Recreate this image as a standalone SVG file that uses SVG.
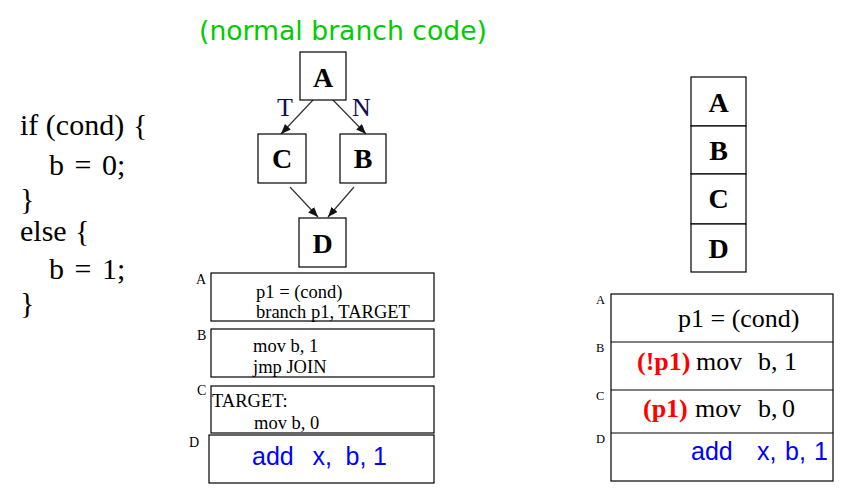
<svg xmlns="http://www.w3.org/2000/svg" width="846" height="488" viewBox="0 0 846 488">
<style>
  .box { fill: #ffffff; stroke: #000000; stroke-width: 1.2; }
  .node { font-family: "Liberation Serif", "Times New Roman", serif; font-weight: bold; font-size: 28px; fill: #000; text-anchor: middle; }
  .src { font-family: "Liberation Serif", "Times New Roman", serif; font-size: 30px; fill: #000; }
  .code { font-family: "Liberation Serif", "Times New Roman", serif; font-size: 18.5px; fill: #000; }
  .big { font-family: "Liberation Serif", "Times New Roman", serif; font-size: 26px; fill: #000; }
  .pred { font-family: "Liberation Serif", "Times New Roman", serif; font-size: 26px; font-weight: bold; fill: #ff0000; }
  .blue { font-family: "Liberation Sans", Arial, sans-serif; font-size: 25px; fill: #0000ff; }
  .lbl { font-family: "Liberation Serif", "Times New Roman", serif; font-size: 14px; fill: #000; }
  .lbls { font-family: "Liberation Serif", "Times New Roman", serif; font-size: 12.5px; fill: #000; }
  .edge { stroke: #333333; stroke-width: 1.2; fill: none; marker-end: url(#arr); }
  .tn { font-family: "Liberation Serif", "Times New Roman", serif; font-size: 26px; fill: #101050; }
</style>
<defs>
  <marker id="arr" viewBox="0 0 10 8" refX="10" refY="4" markerWidth="10" markerHeight="8" markerUnits="userSpaceOnUse" orient="auto">
    <path d="M0,0 L10,4 L0,8 z" fill="#111111"/>
  </marker>
</defs>
<rect width="846" height="488" fill="#ffffff"/>

<!-- title -->
<text id="title" x="199" y="40" font-family="'DejaVu Sans', Verdana, sans-serif" font-size="26.5" fill="#00cc00" textLength="288" lengthAdjust="spacingAndGlyphs">(normal branch code)</text>

<!-- source code -->
<g id="source">
  <text class="src" x="20" y="135">if (cond)</text>
  <text class="src" x="133" y="135">{</text>
  <text class="src" x="49" y="175" word-spacing="3">b = 0;</text>
  <text class="src" x="20" y="209">}</text>
  <text class="src" x="20" y="241">else</text>
  <text class="src" x="75" y="241">{</text>
  <text class="src" x="49" y="279" word-spacing="3">b = 1;</text>
  <text class="src" x="20" y="313">}</text>
</g>

<!-- connectors -->
<g id="connectors">
  <line class="edge" x1="313" y1="100" x2="281" y2="134"/>
  <line class="edge" x1="333" y1="100" x2="366" y2="134"/>
  <line class="edge" x1="290" y1="187" x2="318" y2="217"/>
  <line class="edge" x1="354" y1="187" x2="328" y2="217"/>
  <text class="tn" x="277" y="116">T</text>
  <text class="tn" x="352" y="116">N</text>
</g>

<!-- CFG nodes -->
<g id="nodeA">
  <rect class="box" x="300" y="52" width="46" height="48"/>
  <text class="node" x="323" y="87">A</text>
</g>
<g id="nodeC">
  <rect class="box" x="258" y="134" width="48" height="49"/>
  <text class="node" x="282" y="168">C</text>
</g>
<g id="nodeB">
  <rect class="box" x="340" y="134" width="46" height="49"/>
  <text class="node" x="363" y="168">B</text>
</g>
<g id="nodeD">
  <rect class="box" x="299" y="218" width="47" height="49"/>
  <text class="node" x="322.5" y="253">D</text>
</g>

<!-- left code blocks -->
<g id="codeA">
  <text class="lbl" x="196" y="284">A</text>
  <rect class="box" x="211" y="273" width="223" height="48"/>
  <text class="code" x="256" y="298">p1 = (cond)</text>
  <text class="code" x="256" y="318">branch p1, TARGET</text>
</g>
<g id="codeB">
  <text class="lbl" x="197" y="340">B</text>
  <rect class="box" x="211" y="329" width="223" height="48"/>
  <text class="code" x="253" y="352">mov b, 1</text>
  <text class="code" x="253" y="373">jmp JOIN</text>
</g>
<g id="codeC">
  <text class="lbl" x="197" y="395">C</text>
  <rect class="box" x="211" y="386" width="223" height="47"/>
  <text class="code" x="212" y="407">TARGET:</text>
  <text class="code" x="254" y="429">mov b, 0</text>
</g>
<g id="codeD">
  <text class="lbl" x="189" y="447">D</text>
  <rect class="box" x="209" y="435" width="225" height="48"/>
  <text class="blue" y="465"><tspan x="252">add</tspan><tspan x="312.5">x,</tspan><tspan x="345.5">b,</tspan><tspan x="373">1</tspan></text>
</g>

<!-- right stack -->
<g id="stackA">
  <rect class="box" x="691" y="77" width="55" height="49"/>
  <text class="node" x="718.5" y="112">A</text>
</g>
<g id="stackB">
  <rect class="box" x="691" y="126" width="55" height="48"/>
  <text class="node" x="718.5" y="160">B</text>
</g>
<g id="stackC">
  <rect class="box" x="691" y="174" width="55" height="50"/>
  <text class="node" x="718.5" y="208">C</text>
</g>
<g id="stackD">
  <rect class="box" x="691" y="224" width="55" height="48"/>
  <text class="node" x="718.5" y="258">D</text>
</g>

<!-- right predicated code -->
<g id="predicated">
  <rect class="box" x="611" y="294" width="222" height="187"/>
  <line x1="611" y1="342" x2="833" y2="342" stroke="#000" stroke-width="1.2"/>
  <line x1="611" y1="390" x2="833" y2="390" stroke="#000" stroke-width="1.2"/>
  <line x1="611" y1="433" x2="833" y2="433" stroke="#000" stroke-width="1.2"/>
  <text class="lbls" x="596" y="304">A</text>
  <text class="lbls" x="596" y="352">B</text>
  <text class="lbls" x="596" y="400">C</text>
  <text class="lbls" x="596" y="443">D</text>
  <text class="big" x="678" y="327">p1 = (cond)</text>
  <text class="pred" x="637" y="370">(!p1)</text>
  <text class="big" y="370"><tspan x="696">mov</tspan><tspan x="758">b,</tspan><tspan x="784">1</tspan></text>
  <text class="pred" x="643" y="417">(p1)</text>
  <text class="big" y="417"><tspan x="695">mov</tspan><tspan x="758">b,</tspan><tspan x="782">0</tspan></text>
  <text class="blue" y="460"><tspan x="691">add</tspan><tspan x="757">x,</tspan><tspan x="785">b,</tspan><tspan x="814">1</tspan></text>
</g>
</svg>
